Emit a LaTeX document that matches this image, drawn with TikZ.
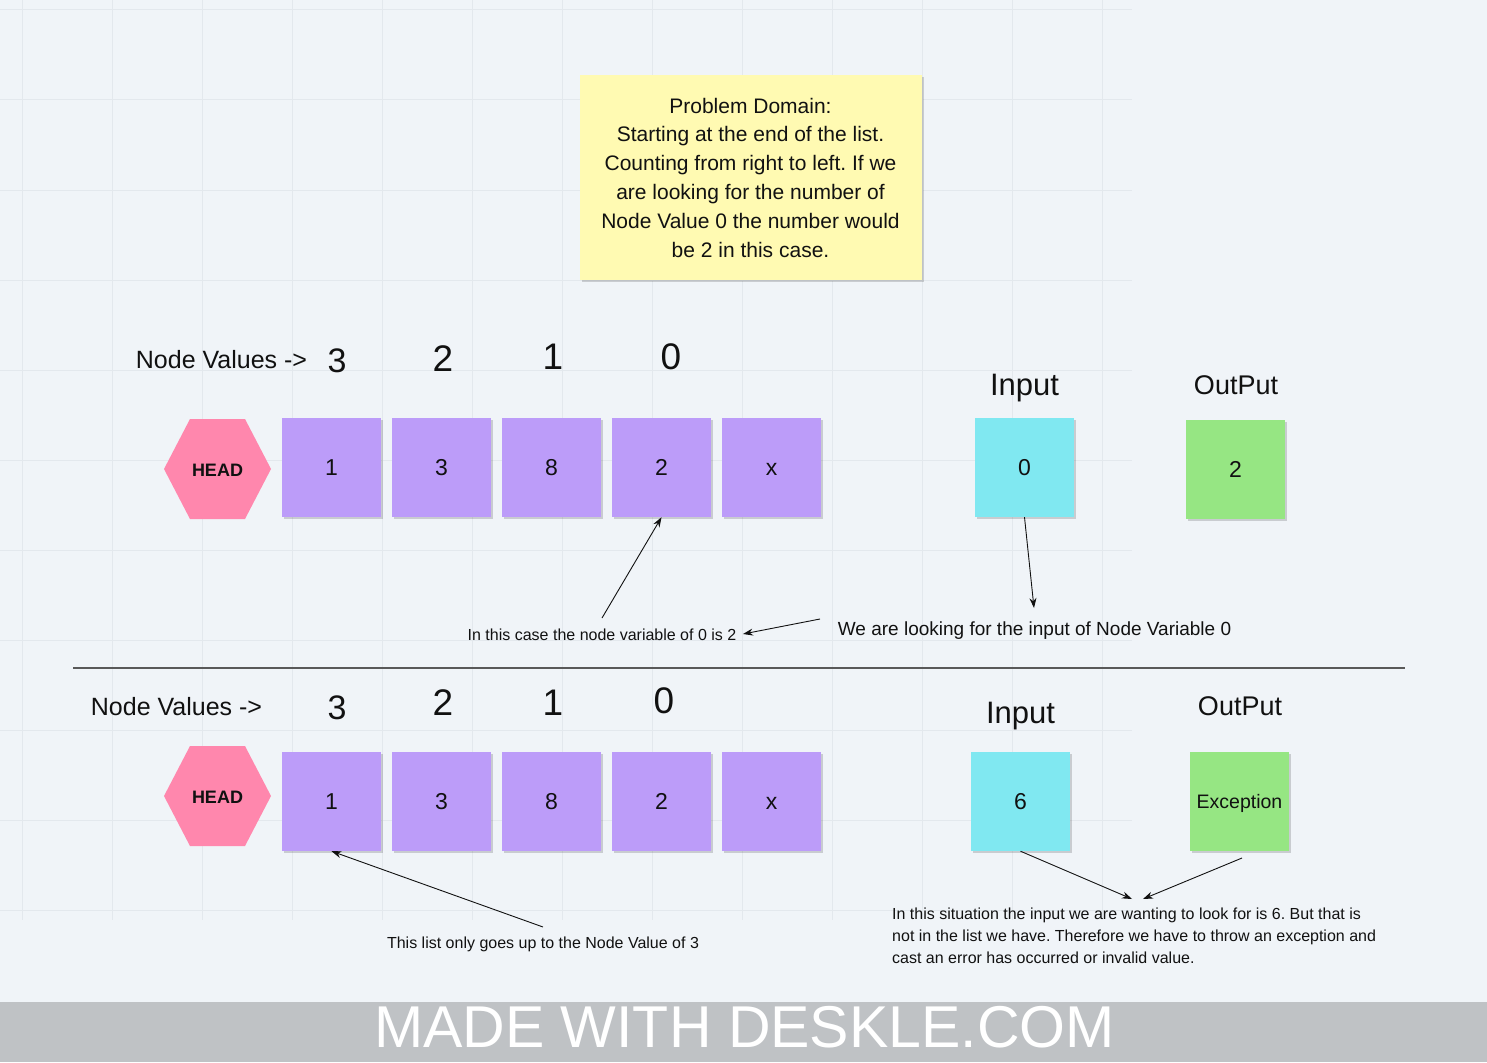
\documentclass[tikz,border=0pt]{standalone}
\usepackage{fontspec}
\setmainfont{Liberation Sans}
\usetikzlibrary{arrows.meta,shadows}
\definecolor{bgc}{HTML}{F0F4F8}
\definecolor{gridc}{HTML}{E3E8ED}
\definecolor{purp}{HTML}{BC9CF9}
\definecolor{pinkc}{HTML}{FF87AD}
\definecolor{cyanc}{HTML}{80E8F1}
\definecolor{greenc}{HTML}{96E683}
\definecolor{notec}{HTML}{FFFAB2}
\definecolor{footc}{HTML}{BFC2C5}
\definecolor{txt}{HTML}{111111}
\tikzset{
  sh/.style={drop shadow={shadow xshift=2pt,shadow yshift=-2pt,fill=black,opacity=0.16}},
  cell/.style={fill=purp,minimum width=99pt,minimum height=99pt,inner sep=0pt,sh,
    text=txt,font=\fontsize{23}{27}\selectfont,text height=16.5pt,text depth=0pt},
  inbox/.style={cell,fill=cyanc},
  outbox/.style={cell,fill=greenc},
  hexc/.style={fill=pinkc},
  headtxt/.style={font=\bfseries\fontsize{18}{22}\selectfont,text=txt,inner sep=0pt,
    text height=13pt,text depth=0pt},
  lbl/.style={font=\fontsize{#1}{#1}\selectfont,text=txt,inner sep=0pt,anchor=base},
  arr/.style={draw=txt,line width=0.9pt,-{Stealth[length=10pt,width=7pt]}},
}
\begin{document}
\frenchspacing
\begin{tikzpicture}[x=1pt,y=-1pt]
\useasboundingbox (0,0) rectangle (1487,1062);
\fill[bgc] (0,0) rectangle (1487,1062);
\foreach \x in {22,112,...,1102} \draw[gridc,line width=1pt] (\x,0) -- (\x,920);
\foreach \y in {10,100,...,910} \draw[gridc,line width=1pt] (0,\y) -- (1132,\y);

% note
\node[fill=notec,minimum width=342pt,minimum height=205pt,sh,align=center,
  text=txt,font=\fontsize{21}{28.8}\selectfont] (note) at (750.5,177.5)
  {Problem Domain:\\Starting at the end of the list.\\Counting from right to left. If we\\are looking for the number of\\Node Value 0 the number would\\be 2 in this case.};

% top row
\node[lbl=25] (nv1) at (221.5,368) {Node Values ->};
\node[lbl=34] (d13) at (337,372) {3};
\node[lbl=37] (d12) at (443,371) {2};
\node[lbl=37] (d11) at (553,369) {1};
\node[lbl=37] (d10) at (671,369) {0};
\node[lbl=31] (in1l) at (1024.5,395) {Input};
\node[lbl=27] (out1l) at (1236,394) {OutPut};

\fill[hexc] (164,469) -- (190,419) -- (245,419) -- (271,469) -- (245,519) -- (190,519) -- cycle;
\node[headtxt] (h1) at (217.5,469.5) {HEAD};
\node[cell] (t1) at (331.5,467.5) {1};
\node[cell] (t2) at (441.5,467.5) {3};
\node[cell] (t3) at (551.5,467.5) {8};
\node[cell] (t4) at (661.5,467.5) {2};
\node[cell] (t5) at (771.5,467.5) {x};
\node[inbox] (i1) at (1024.5,467.5) {0};
\node[outbox] (o1) at (1235.5,469.5) {2};

\node[lbl=16] (la) at (602,640) {In this case the node variable of 0 is 2};
\node[lbl=19] (lb) at (1034.5,635) {We are looking for the input of Node Variable 0};
\coordinate (a1s) at (602,618);
\coordinate (a2s) at (820,619);
\coordinate (a2e) at (743,634);
\coordinate (a3e) at (1034,608);
\draw[arr] (a1s) -- (t4.south);
\draw[arr] (a2s) -- (a2e);
\draw[arr] (i1.south) -- (a3e);

% separator
\draw[color=black!65,line width=1.3pt] (73,668) -- (1405,668);

% bottom row
\node[lbl=25] (nv2) at (176.5,715) {Node Values ->};
\node[lbl=34] (d23) at (337,719) {3};
\node[lbl=37] (d22) at (443,715) {2};
\node[lbl=37] (d21) at (553,715) {1};
\node[lbl=37] (d20) at (664,713) {0};
\node[lbl=31] (in2l) at (1020.5,723) {Input};
\node[lbl=27] (out2l) at (1240,715) {OutPut};

\fill[hexc] (164,796) -- (190,746) -- (245,746) -- (271,796) -- (245,846) -- (190,846) -- cycle;
\node[headtxt] (h2) at (217.5,796.5) {HEAD};
\node[cell] (b1) at (331.5,801.5) {1};
\node[cell] (b2) at (441.5,801.5) {3};
\node[cell] (b3) at (551.5,801.5) {8};
\node[cell] (b4) at (661.5,801.5) {2};
\node[cell] (b5) at (771.5,801.5) {x};
\node[inbox] (i2) at (1020.5,801.5) {6};
\node[outbox,font=\fontsize{19.5}{23}\selectfont,text height=14pt] (o2) at (1239.5,801.5) {Exception};

\node[lbl=16] (lc) at (543,948) {This list only goes up to the Node Value of 3};
\node[font=\fontsize{16}{22}\selectfont,text=txt,inner sep=0pt,align=left,anchor=north west] (ld) at (892,908)
  {In this situation the input we are wanting to look for is 6. But that is\\not in the list we have. Therefore we have to throw an exception and\\cast an error has occurred or invalid value.};
\coordinate (a4s) at (543,927);
\coordinate (a5e) at (1132,899);
\coordinate (a6s) at (1242,858);
\coordinate (a6e) at (1143,899);
\draw[arr] (a4s) -- (b1.south);
\draw[arr] (i2.south) -- (a5e);
\draw[arr] (a6s) -- (a6e);

% footer
\fill[footc] (0,1002) rectangle (1487,1062);
\node[lbl=59,text=white] (foot) at (744.5,1047) {MADE WITH DESKLE.COM};
\end{tikzpicture}
\end{document}
